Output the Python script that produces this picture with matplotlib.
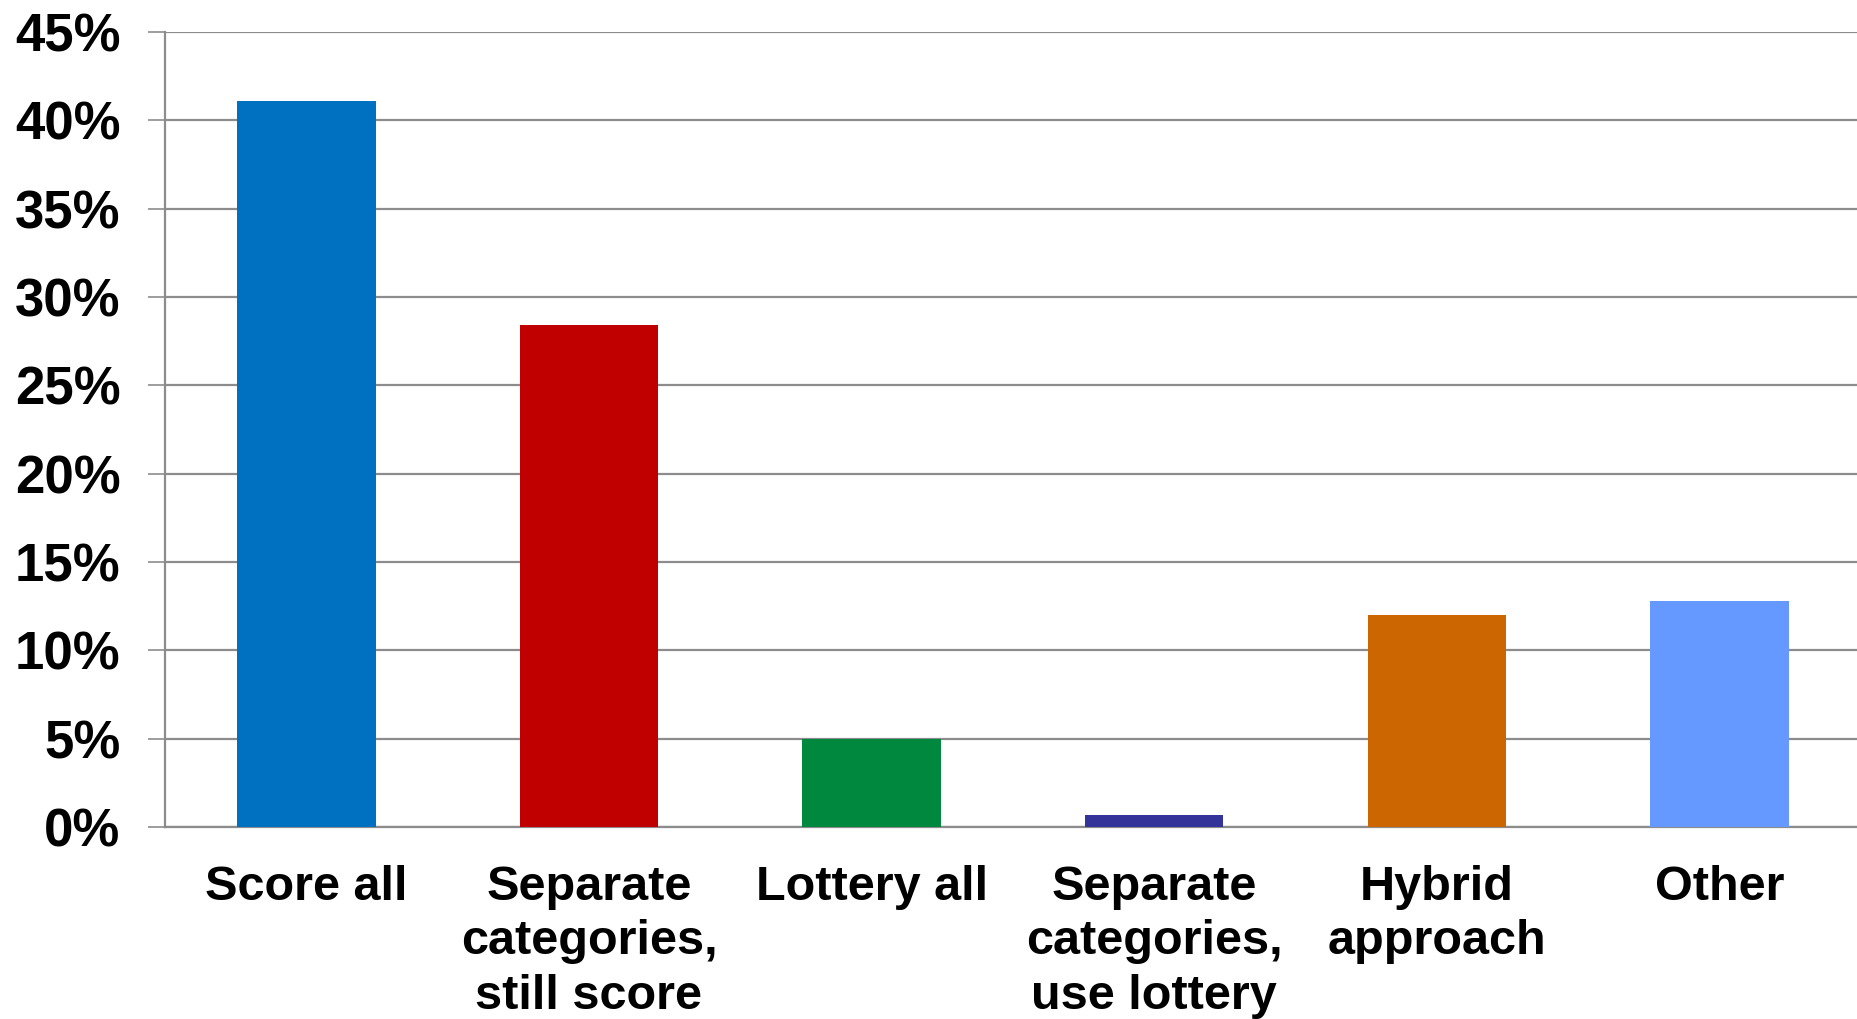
import matplotlib.pyplot as plt
import numpy as np

# Survey results (percent of respondents)
categories = ["Score all", "Separate\ncategories,\nstill score", "Lottery all",
              "Separate\ncategories,\nuse lottery", "Hybrid\napproach", "Other"]
values = [41.1, 28.4, 5.0, 0.7, 12.0, 12.8]
colors = ["#0070C0", "#C00000", "#00883E", "#333399", "#CC6600", "#6699FF"]
yticks = [0, 5, 10, 15, 20, 25, 30, 35, 40, 45]

plt.rcParams['font.family'] = ['Liberation Sans', 'DejaVu Sans']
plt.rcParams['font.weight'] = 'bold'

fig = plt.figure(figsize=(18.58, 10.19), dpi=100)
ax = fig.add_axes([0.0888, 0.1884, 0.9112, 0.7802])

x = np.arange(len(categories))
ax.bar(x, values, width=0.49, color=colors, zorder=3)

grid_col = "#8c8c8c"
ax.set_ylim(0, 45)
ax.set_xlim(-0.5, 5.49)
ax.set_yticks(yticks)
ax.set_yticklabels([f"{v}%" for v in yticks], fontsize=38, fontweight='bold')
ax.set_xticks(x)
ax.set_xticklabels(categories, fontsize=35, fontweight='bold', linespacing=1.28)
ax.yaxis.grid(True, color=grid_col, linewidth=1.6, zorder=0)
ax.tick_params(axis='y', length=12, width=1.2, color=grid_col, pad=20)
ax.tick_params(axis='x', length=0, pad=27)

for side in ['top', 'right']:
    ax.spines[side].set_visible(False)
for side in ['left', 'bottom']:
    ax.spines[side].set_color(grid_col)
    ax.spines[side].set_linewidth(1.6)

fig.savefig("out.png", dpi=100)
